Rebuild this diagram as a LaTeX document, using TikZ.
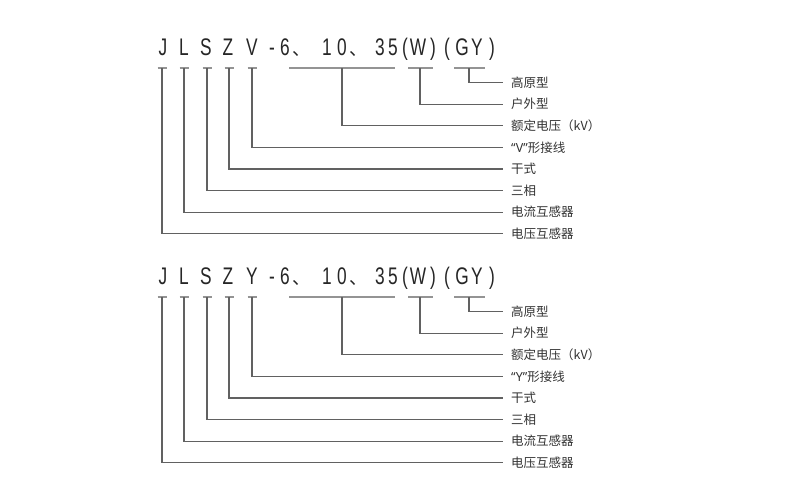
\documentclass[tikz,border=0pt]{standalone}
\usepackage{fontspec}
\newfontfamily\cjk{Noto Sans CJK SC}
\newfontfamily\ttl{Liberation Sans}[FakeStretch=0.72]
\newfontfamily\lat{Noto Sans}
\newcommand\drawblock[3]{% #1 vertical offset, #2 letter, #3 name suffix
  % title characters
  \node[tch] (cJ#3) at (163,55+#1) {J};
  \node[tch] (cL#3) at (184,55+#1) {L};
  \node[tch] (cS#3) at (206,55+#1) {S};
  \node[tch] (cZ#3) at (228,55+#1) {Z};
  \node[tch] (cV#3) at (252,55+#1) {#2};
  \node[tch] (cd#3) at (272,55+#1) {-};
  \node[tch] (c6#3) at (285,55+#1) {6};
  \node[tch,font=\cjk\fontsize{18}{18}\selectfont] (ca#3) at (301,55+#1) {、};
  \node[tch] (c1#3) at (327,55+#1) {1};
  \node[tch] (c0#3) at (342,55+#1) {0};
  \node[tch,font=\cjk\fontsize{18}{18}\selectfont] (cb#3) at (358,55+#1) {、};
  \node[tch] (c3#3) at (380,55+#1) {3};
  \node[tch] (c5#3) at (393,55+#1) {5};
  \node[tch] (cp1#3) at (405,55+#1) {(};
  \node[tch] (cW#3) at (418,55+#1) {W};
  \node[tch] (cq1#3) at (433,55+#1) {)};
  \node[tch] (cp2#3) at (447,55+#1) {(};
  \node[tch] (cG#3) at (462,55+#1) {G};
  \node[tch] (cY#3) at (477,55+#1) {Y};
  \node[tch] (cq2#3) at (492,55+#1) {)};
  % bar coordinates
  \coordinate (bJ#3) at (162,68+#1);
  \coordinate (bL#3) at (184,68+#1);
  \coordinate (bS#3) at (207,68+#1);
  \coordinate (bZ#3) at (229,68+#1);
  \coordinate (bV#3) at (252,68+#1);
  \coordinate (bR#3) at (342,68+#1);
  \coordinate (bW#3) at (420,68+#1);
  \coordinate (bG#3) at (469,68+#1);
  % bars
  \foreach \b in {J,L,S,Z,V}{\draw[barline] ([xshift=-4.5pt]b\b#3) -- ([xshift=4.5pt]b\b#3);}
  \draw[barline] (289,68+#1) -- (395,68+#1);
  \draw[barline] (408,68+#1) -- (433,68+#1);
  \draw[barline] (454,68+#1) -- (485,68+#1);
  % labels
  \node[lab] (l1#3) at (503,82.5+#1) {高原型};
  \node[lab] (l2#3) at (503,104.1+#1) {户外型};
  \node[lab] (l3#3) at (503,125.7+#1) {额定电压（kV）};
  \node[lab] (l4#3) at (503,147.3+#1) {{\lat “#2”}形接线};
  \node[lab] (l5#3) at (503,168.9+#1) {干式};
  \node[lab] (l6#3) at (503,190.5+#1) {三相};
  \node[lab] (l7#3) at (503,212.1+#1) {电流互感器};
  \node[lab] (l8#3) at (503,233.7+#1) {电压互感器};
  % connectors
  \draw[conn] (bG#3) |- (l1#3.west);
  \draw[conn] (bW#3) |- (l2#3.west);
  \draw[conn] (bR#3) |- (l3#3.west);
  \draw[conn] (bV#3) |- (l4#3.west);
  \draw[conn] (bZ#3) |- (l5#3.west);
  \draw[conn] (bS#3) |- (l6#3.west);
  \draw[conn] (bL#3) |- (l7#3.west);
  \draw[conn] (bJ#3) |- (l8#3.west);
}
\begin{document}
\begin{tikzpicture}[x=1pt,y=-1pt,
  tch/.style={anchor=base, inner sep=0pt, font=\ttl\fontsize{24}{24}\selectfont, text=black!85},
  lab/.style={anchor=west, inner xsep=8pt, inner ysep=0pt, font=\cjk\fontsize{12.5}{13}\selectfont, text=black!80},
  conn/.style={draw=black!62, line width=1.2pt},
  barline/.style={draw=black!42, line width=1.2pt}]
\useasboundingbox[fill=white] (0,0) rectangle (790,493);
\drawblock{0}{V}{a}
\drawblock{229}{Y}{b}
\end{tikzpicture}
\end{document}
